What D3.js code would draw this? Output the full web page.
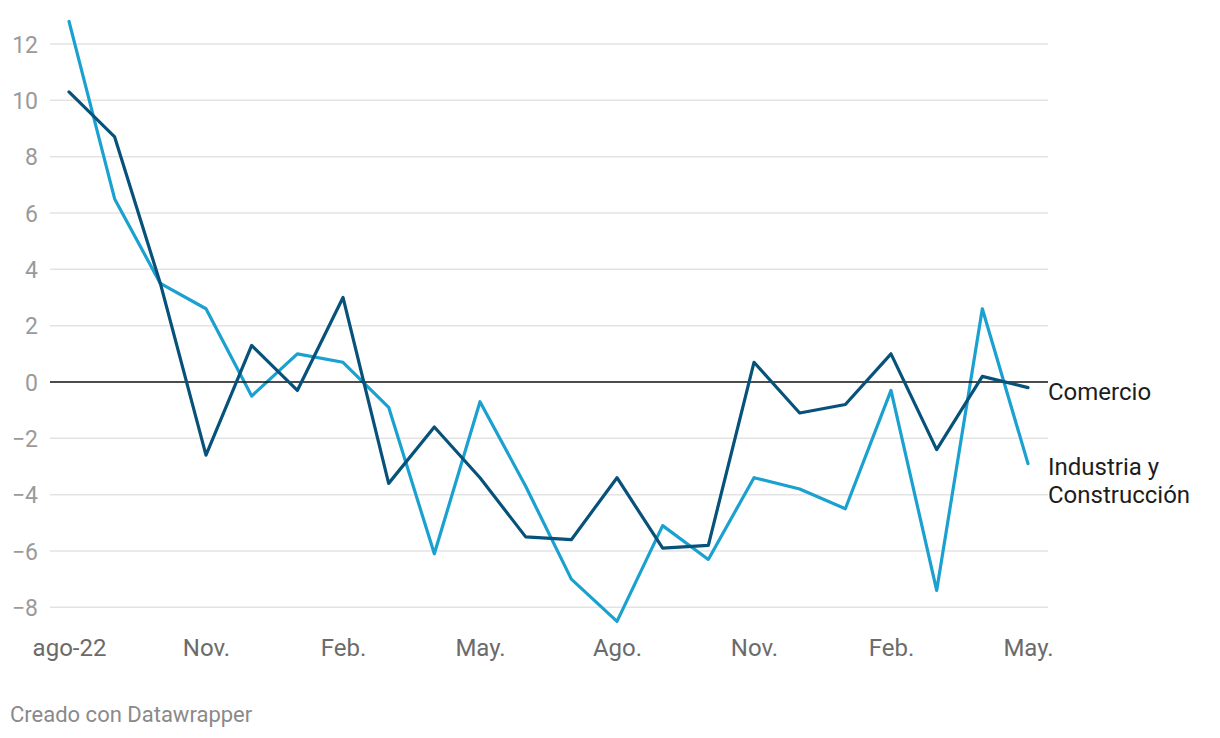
<!DOCTYPE html>
<html><head><meta charset="utf-8">
<script src="https://cdn.jsdelivr.net/npm/d3@7"></script>
<style>
body{margin:0;background:#fff;}
svg text{font-family:Roboto, "Noto Sans", sans-serif;}
</style></head>
<body><svg id="c" width="1220" height="738"></svg>
<script>
const months = ["2022-08","2022-09","2022-10","2022-11","2022-12","2023-01","2023-02","2023-03","2023-04","2023-05","2023-06","2023-07","2023-08","2023-09","2023-10","2023-11","2023-12","2024-01","2024-02","2024-03","2024-04","2024-05"];
const industria = [12.8,6.5,3.5,2.6,-0.5,1.0,0.7,-0.9,-6.1,-0.7,-3.7,-7.0,-8.5,-5.1,-6.3,-3.4,-3.8,-4.5,-0.3,-7.4,2.6,-2.9];
const comercio = [10.3,8.7,3.5,-2.6,1.3,-0.3,3.0,-3.6,-1.6,-3.4,-5.5,-5.6,-3.4,-5.9,-5.8,0.7,-1.1,-0.8,1.0,-2.4,0.2,-0.2];
const yTicks = [-8,-6,-4,-2,0,2,4,6,8,10,12];
const xTickIdx = [0,3,6,9,12,15,18,21];
const xTickLabels = ["ago-22","Nov.","Feb.","May.","Ago.","Nov.","Feb.","May."];
const seriesNames = ["Comercio","Industria y Construcción"];

const svg = d3.select("#c");
const x = d3.scaleLinear().domain([0, months.length-1]).range([69, 1028]);
const y = d3.scaleLinear().domain([-8, 12]).range([607.3, 44]);

const grid = svg.append("g");
grid.selectAll("line").data(yTicks.filter(d=>d!==0)).join("line")
  .attr("x1",50).attr("x2",1048).attr("y1",d=>y(d)).attr("y2",d=>y(d))
  .attr("stroke","#e3e3e3").attr("stroke-width",1.5);

const yAxis = d3.axisLeft(y).tickValues(yTicks).tickSize(0).tickPadding(0)
  .tickFormat(d=> d<0 ? "\u2212"+Math.abs(d) : String(d));
const ya = svg.append("g").attr("transform","translate(38,0)").call(yAxis);
ya.select(".domain").remove();
ya.selectAll("text").attr("font-size",23).attr("fill","#9a9a9a").attr("dy","0.35em");

const xAxis = d3.axisBottom(x).tickValues(xTickIdx).tickSize(0).tickPadding(0)
  .tickFormat((d,i)=>xTickLabels[i]);
const xa = svg.append("g").attr("transform","translate(0,656)").call(xAxis);
xa.select(".domain").remove();
xa.selectAll("text").attr("font-size",24).attr("fill","#6b6b6b").attr("y",0).attr("dy","0");

const line = d3.line().x((d,i)=>x(i)).y(d=>y(d));
svg.append("path").datum(industria).attr("d",line).attr("fill","none")
  .attr("stroke","#1aa1d0").attr("stroke-width",3.2).attr("stroke-linejoin","round").attr("stroke-linecap","round");

svg.append("line").attr("x1",50).attr("x2",1048).attr("y1",y(0)).attr("y2",y(0))
  .attr("stroke","#111").attr("stroke-width",1.6);

svg.append("path").datum(comercio).attr("d",line).attr("fill","none")
  .attr("stroke","#07527a").attr("stroke-width",3.2).attr("stroke-linejoin","round").attr("stroke-linecap","round");

svg.append("text").attr("x",1048).attr("y",400).attr("font-size",24).attr("fill","#1d1d1d").text(seriesNames[0]);
const t2 = svg.append("text").attr("x",1048).attr("y",475).attr("font-size",24).attr("fill","#1d1d1d");
t2.append("tspan").attr("x",1048).text("Industria y");
t2.append("tspan").attr("x",1048).attr("dy",28).text("Construcción");

svg.append("text").attr("x",10).attr("y",722).attr("font-size",22).attr("fill","#8a8a8a").text("Creado con Datawrapper");
</script></body></html>
